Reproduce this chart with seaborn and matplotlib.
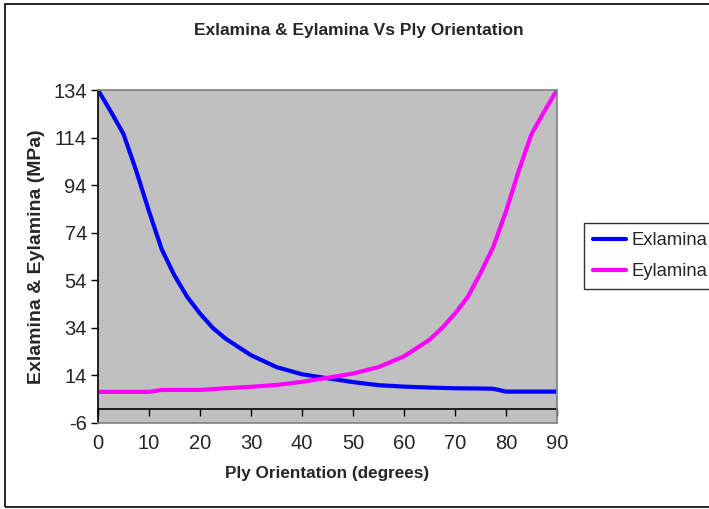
import matplotlib
matplotlib.use("Agg")
import matplotlib.pyplot as plt
import matplotlib.patches as mpatches
import seaborn as sns
import pandas as pd

# ---- data ----
ex_angle = [0, 2.5, 5, 7.5, 10, 12.5, 15, 17.5, 20, 22.5, 25, 30, 35, 40, 45,
            50, 55, 60, 65, 70, 75, 77.5, 80, 85, 90]
exlamina = [134, 125, 115.5, 100, 83, 67, 56, 47, 40, 34, 29.5, 22.5, 17.5, 14.5, 12.8,
            11.2, 9.9, 9.3, 8.9, 8.6, 8.5, 8.4, 7.2, 7.2, 7.2]

ey_angle = [0, 5, 10, 12.5, 20, 25, 30, 35, 40, 45, 50, 55, 60, 65, 67.5, 70,
            72.5, 75, 77.5, 80, 82.5, 85, 87.5, 90]
eylamina = [7.1, 7.1, 7.1, 7.9, 7.9, 8.6, 9.2, 10, 11.3, 13, 14.8, 17.5, 22, 29, 34, 40,
            47, 57, 68, 83, 100, 115.5, 125, 134]

series_names = ["Exlamina", "Eylamina"]
series_colors = ["#0000FF", "#FF00FF"]
x_ticks = [0, 10, 20, 30, 40, 50, 60, 70, 80, 90]
y_ticks = [-6, 14, 34, 54, 74, 94, 114, 134]

df = pd.concat([
    pd.DataFrame({"angle": ex_angle, "value": exlamina, "series": series_names[0]}),
    pd.DataFrame({"angle": ey_angle, "value": eylamina, "series": series_names[1]}),
], ignore_index=True)

sns.set_theme(style="white")
plt.rcParams["font.family"] = ["Liberation Sans", "DejaVu Sans"]
plt.rcParams["axes.unicode_minus"] = False

fig = plt.figure(figsize=(7.09, 5.09), dpi=100)
ax = fig.add_axes([98 / 709, 1 - 423 / 509, (557 - 98) / 709, (423 - 90) / 509])
ax.set_facecolor("#C0C0C0")

sns.lineplot(data=df, x="angle", y="value", hue="series", hue_order=series_names,
             palette=dict(zip(series_names, series_colors)), linewidth=3.0,
             ax=ax, legend=False, estimator=None, sort=False)

ax.set_xlim(0, 90)
ax.set_ylim(-6, 134)
ax.set_yticks(y_ticks)
ax.set_xticks(x_ticks)
ax.tick_params(axis="y", direction="out", length=5, width=1, color="black",
               labelsize=14.5, pad=3, left=True)
ax.tick_params(axis="x", length=0, labelsize=14.5, pad=8)

for side in ["top", "right", "bottom"]:
    ax.spines[side].set_color("#808080")
    ax.spines[side].set_linewidth(1.2)
ax.spines["left"].set_color("black")
ax.spines["left"].set_linewidth(1.2)

# x axis crossing at y = 0 with tick marks
sec = ax.secondary_xaxis((0 - (-6)) / (134 - (-6)))
sec.set_xticks(x_ticks)
sec.set_xticklabels([])
sec.tick_params(direction="out", length=5, width=1, color="black")
sec.spines["bottom"].set_color("black")
sec.spines["bottom"].set_linewidth(1.2)

ax.set_xlabel("Ply Orientation (degrees)", fontsize=12.3, fontweight="bold", labelpad=9)
ax.set_ylabel("Exlamina & Eylamina (MPa)", fontsize=14, fontweight="bold", labelpad=6)

fig.text(0.5056, 0.941, "Exlamina & Eylamina Vs Ply Orientation", ha="center", va="center",
         fontsize=12.5, fontweight="bold")

handles = [plt.Line2D([], [], color=c, linewidth=3.0) for c in series_colors]
leg = fig.legend(handles, series_names, loc="upper left",
                 bbox_to_anchor=(584 / 709, 1 - 223 / 509), fontsize=13.3,
                 frameon=True, fancybox=False, handlelength=1.8, handletextpad=0.25,
                 borderpad=0.5, labelspacing=0.75, borderaxespad=0)
leg.get_frame().set_edgecolor("black")
leg.get_frame().set_linewidth(1.0)

# outer chart border
fig.patches.append(mpatches.Rectangle((5 / 709, 1 - 507 / 509), 720 / 709, 503 / 509,
                                      transform=fig.transFigure, fill=False,
                                      edgecolor="black", linewidth=1.2))

fig.savefig("out.png", dpi=100)
